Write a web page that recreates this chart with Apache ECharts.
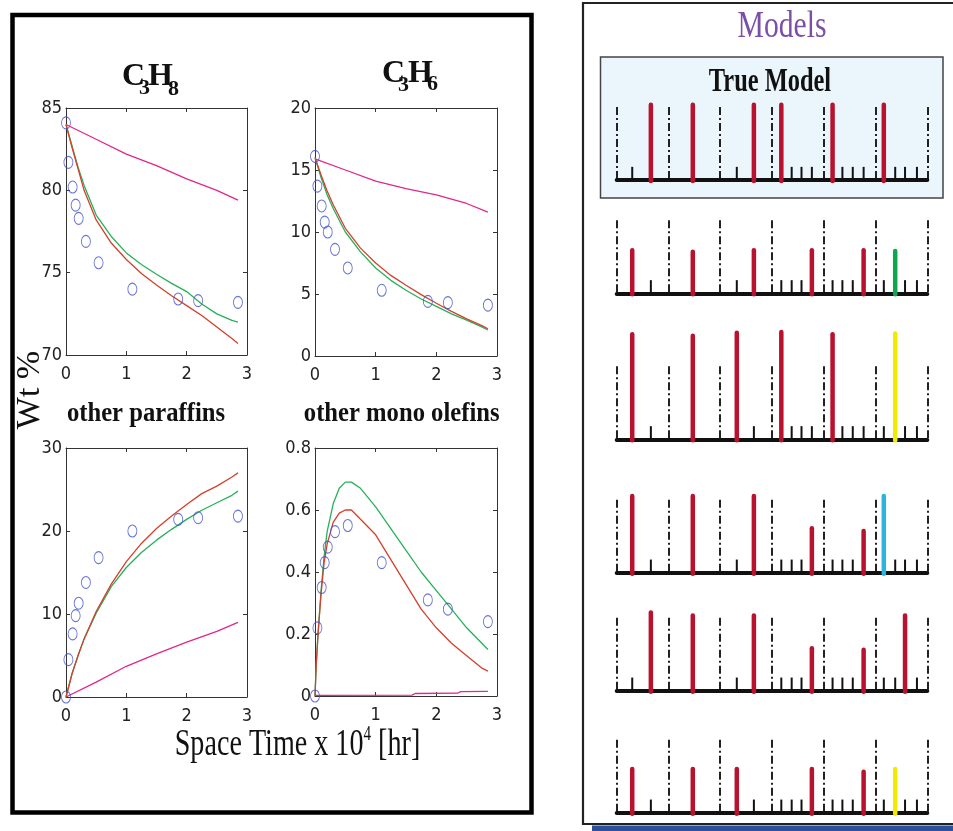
<!DOCTYPE html>
<html>
<head>
<meta charset="utf-8">
<script src="https://cdn.jsdelivr.net/npm/echarts@6/dist/echarts.min.js"></script>
<style>
  html,body{margin:0;padding:0;background:#fff;}
  #chart{width:953px;height:831px;}
</style>
</head>
<body>
<div id="chart"></div>
<script>
// measured points (space time x 10^4 hr)
const spaceTime = [0, 0.04, 0.11, 0.16, 0.21, 0.33, 0.54, 1.1, 1.86, 2.19, 2.85];
const c3h8Exp = [84.1, 81.7, 80.2, 79.1, 78.3, 76.9, 75.6, 74.0, 73.4, 73.3, 73.2];
const c3h6Exp = [16.1, 13.7, 12.1, 10.8, 10.0, 8.6, 7.1, 5.3, 4.4, 4.3, 4.1];
const paraffinExp = [0.0, 4.5, 7.6, 9.8, 11.3, 13.8, 16.8, 20.0, 21.4, 21.6, 21.8];
const olefinExp = [0.0, 0.22, 0.35, 0.43, 0.48, 0.53, 0.55, 0.43, 0.31, 0.28, 0.24];

// model curves
const modelTime = [0, 0.1, 0.2, 0.3, 0.5, 0.75, 1, 1.25, 1.5, 1.75, 2, 2.25, 2.5, 2.75, 2.85];
const c3h8Red   = [84.0, 82.6, 81.3, 80.0, 78.2, 76.8, 75.8, 74.95, 74.25, 73.6, 73.0, 72.4, 71.7, 71.0, 70.7];
const c3h8Green = [84.0, 82.7, 81.4, 80.3, 78.5, 77.2, 76.2, 75.5, 74.9, 74.35, 73.85, 73.1, 72.5, 72.1, 72.0];
const c3h6Red   = [16.0, 14.6, 13.3, 12.2, 10.3, 8.7, 7.5, 6.5, 5.7, 4.95, 4.25, 3.6, 3.0, 2.45, 2.2];
const c3h6Green = [16.0, 14.4, 13.0, 11.9, 10.0, 8.4, 7.1, 6.1, 5.3, 4.6, 4.0, 3.4, 2.9, 2.35, 2.1];
const paraffinRed   = [0, 2.8, 5.0, 7.0, 10.3, 13.6, 16.3, 18.5, 20.3, 21.8, 23.2, 24.5, 25.4, 26.5, 27.0];
const paraffinGreen = [0, 2.8, 5.0, 7.0, 10.1, 13.3, 15.6, 17.4, 18.9, 20.2, 21.4, 22.5, 23.4, 24.3, 24.8];

const slowTime = [0, 0.5, 1, 1.5, 2, 2.5, 2.85];
const c3h8Magenta = [84.0, 83.1, 82.2, 81.5, 80.7, 80.0, 79.4];
const c3h6Magenta = [15.9, 15.0, 14.1, 13.5, 13.0, 12.3, 11.6];
const paraffinMagenta = [0, 1.8, 3.7, 5.2, 6.6, 7.9, 9.0];

const olefinTime  = [0, 0.02, 0.05, 0.1, 0.15, 0.2, 0.3, 0.4, 0.5, 0.6, 0.75, 1, 1.25, 1.5, 1.75, 2, 2.25, 2.5, 2.75, 2.85];
const olefinGreen = [0, 0.10, 0.20, 0.34, 0.45, 0.53, 0.62, 0.67, 0.69, 0.69, 0.67, 0.61, 0.54, 0.47, 0.40, 0.34, 0.28, 0.22, 0.17, 0.15];
const olefinRed   = [0, 0.10, 0.20, 0.33, 0.43, 0.49, 0.56, 0.59, 0.60, 0.60, 0.57, 0.52, 0.44, 0.36, 0.28, 0.22, 0.17, 0.13, 0.09, 0.08];
const olefinMagTime = [0, 1.6, 1.65, 2.35, 2.4, 2.85];
const olefinMagenta = [0.002, 0.003, 0.008, 0.009, 0.014, 0.015];

// model structures: candidate slots, and per row [slot, height, kind]
const modelSlots = [0.30, 0.66, 1.47, 2.32, 2.65, 3.18, 3.38, 3.57, 3.77, 4.17, 4.36, 4.56, 4.77, 5.16, 5.38, 5.57, 5.80];
const modelTrue = [[0.66,1.03,0],[1.47,1.03,0],[2.65,1.03,0],[3.18,1.03,0],[4.17,1.03,0],[5.16,1.03,0]];
const modelA = [[0.30,0.59,0],[1.47,0.57,0],[2.65,0.59,0],[3.77,0.59,0],[4.77,0.59,0],[5.38,0.58,1]];
const modelB = [[0.30,1.44,0],[1.47,1.42,0],[2.32,1.46,0],[3.18,1.47,0],[4.17,1.44,0],[5.38,1.45,2]];
const modelC = [[0.30,1.05,0],[1.47,1.05,0],[2.65,1.05,0],[3.77,0.61,0],[4.77,0.57,0],[5.16,1.05,3]];
const modelD = [[0.66,1.07,0],[1.47,1.03,0],[2.65,1.03,0],[3.77,0.58,0],[4.77,0.56,0],[5.57,1.03,0]];
const modelE = [[0.30,0.60,0],[1.47,0.60,0],[2.32,0.60,0],[3.77,0.60,0],[4.77,0.56,0],[5.38,0.60,2]];
const barColors = ['#b8122f', '#0fa64d', '#f2ea00', '#2cb3df'];

const narrow = "'Liberation Sans Narrow','DejaVu Sans Condensed','Arial Narrow',sans-serif";
const serif = "'Liberation Serif','Times New Roman','DejaVu Serif',serif";
const RED = '#d5402c', GREEN = '#27b05a', MAG = '#e2268c', BLUE = '#4350cc';

const pair = (xs, ys) => xs.map((x, i) => [x, ys[i]]);

const plots = [
  {grid:{left:66, top:108, width:181, height:247}, min:70, max:85, step:5,
   exp:c3h8Exp, red:c3h8Red, green:c3h8Green, mag:pair(slowTime, c3h8Magenta), t:modelTime},
  {grid:{left:315, top:108, width:182, height:248}, min:0, max:20, step:5,
   exp:c3h6Exp, red:c3h6Red, green:c3h6Green, mag:pair(slowTime, c3h6Magenta), t:modelTime},
  {grid:{left:66, top:448, width:181, height:249}, min:0, max:30, step:10,
   exp:paraffinExp, red:paraffinRed, green:paraffinGreen, mag:pair(slowTime, paraffinMagenta), t:modelTime},
  {grid:{left:315, top:448, width:182, height:248}, min:0, max:0.8, step:0.2,
   exp:olefinExp, red:olefinRed, green:olefinGreen, mag:pair(olefinMagTime, olefinMagenta), t:olefinTime}
];

const rows = [modelTrue, modelA, modelB, modelC, modelD, modelE];
const rowBase = [180, 293.3, 439.3, 572.7, 690.7, 812.7];

const grids = [], xAxes = [], yAxes = [], series = [];
const frameLine = {show:true, onZero:false, lineStyle:{color:'#333', width:1}};
const inTick = {show:true, inside:true, length:4, lineStyle:{color:'#333'}};

plots.forEach((p, i) => {
  grids.push(p.grid);
  const xBase = {type:'value', gridIndex:i, min:0, max:3, interval:1, splitLine:{show:false}, axisLine:frameLine, axisTick:inTick};
  xAxes.push(Object.assign({}, xBase, {position:'bottom',
    axisLabel:{margin:10, color:'#222', fontSize:18, fontFamily:narrow}}));
  xAxes.push(Object.assign({}, xBase, {position:'top', axisLabel:{show:false}}));
  const yBase = {type:'value', gridIndex:i, min:p.min, max:p.max, interval:p.step, splitLine:{show:false}, axisLine:frameLine, axisTick:inTick};
  yAxes.push(Object.assign({}, yBase, {position:'left',
    axisLabel:{margin:4, color:'#222', fontSize:18, fontFamily:narrow}}));
  yAxes.push(Object.assign({}, yBase, {position:'right', axisLabel:{show:false}}));
  const ax = {xAxisIndex:2*i, yAxisIndex:2*i};
  const line = (data, color) => Object.assign({type:'line', data, showSymbol:false, animation:false,
    lineStyle:{color, width:1.3}, z:3}, ax);
  series.push(line(p.mag, MAG));
  series.push(line(pair(p.t, p.green), GREEN));
  series.push(line(pair(p.t, p.red), RED));
  series.push(Object.assign({type:'scatter', data:pair(spaceTime, p.exp), symbol:'circle',
    symbolSize:[9,12], itemStyle:{color:'rgba(0,0,0,0)', borderColor:BLUE, borderWidth:1}, animation:false, z:4}, ax));
});

rows.forEach((row, r) => {
  const g = 4 + r;
  grids.push({left:616.7, width:310.6, top:rowBase[r]-73, height:73});
  xAxes.push({type:'value', gridIndex:g, min:0, max:6, interval:1,
    axisLine:{show:true, onZero:false, lineStyle:{color:'#111', width:4, cap:'round'}},
    axisTick:{show:false}, axisLabel:{show:false},
    splitLine:{show:true, lineStyle:{color:'#222', width:2, type:[8,3,2,3]}}});
  yAxes.push({type:'value', gridIndex:g, min:0, max:1, show:false});
  const free = modelSlots.filter(s => !row.some(b => Math.abs(b[0] - s) < 0.05)).map(s => [s, 0]);
  series.push({type:'custom', xAxisIndex:8+r, yAxisIndex:8+r, data:free, animation:false, z:3,
    renderItem:(params, api) => {
      const a = api.coord([api.value(0), 0]), b = api.coord([api.value(0), 0.18]);
      return {type:'line', shape:{x1:a[0], y1:a[1], x2:b[0], y2:b[1]}, style:{stroke:'#111', lineWidth:2}};
    }});
  series.push({type:'custom', xAxisIndex:8+r, yAxisIndex:8+r, data:row, animation:false, z:4,
    renderItem:(params, api) => {
      const a = api.coord([api.value(0), 0]), b = api.coord([api.value(0), api.value(1)]);
      return {type:'line', shape:{x1:a[0], y1:a[1]+1, x2:b[0], y2:b[1]},
        style:{stroke:barColors[api.value(2)], lineWidth:4.5, lineCap:'round'}};
    }});
});

const txt = (text, x, y, size, opts) => Object.assign({type:'text', x, y, z:10,
  style:Object.assign({text, fontSize:size, fontFamily:serif, fill:'#111',
    align:'center', verticalAlign:'middle', textAlign:'center', textVerticalAlign:'middle'}, (opts && opts.style) || {})},
  opts && opts.el || {});
const sub = (text, x, y, size) => txt(text, x, y, size, {style:{fontWeight:'bold', align:'left', textAlign:'left'}});

const graphics = [
  {type:'rect', z:-10, shape:{x:12.5, y:15, width:519, height:797.5}, style:{fill:'#fff', stroke:'#000', lineWidth:4.5}},
  {type:'rect', z:-10, shape:{x:583, y:3, width:400, height:821}, style:{fill:'#fff', stroke:'#222', lineWidth:2.2}},
  {type:'rect', z:-9, shape:{x:592, y:825.5, width:370, height:7}, style:{fill:'#2c4f9e'}},
  {type:'rect', z:-9, shape:{x:600.5, y:57, width:342.5, height:141}, style:{fill:'#eaf6fc', stroke:'#444', lineWidth:1.5}},
  txt('Models', 782, 27, 38, {style:{fill:'#7b4fa8'}, el:{scaleX:0.78}}),
  txt('True Model', 770, 82, 33, {style:{fontWeight:'bold'}, el:{scaleX:0.74}}),
  sub('C', 122, 77, 32), sub('3', 139, 88, 22), sub('H', 148, 77, 32), sub('8', 168, 89, 22),
  sub('C', 382, 74, 32), sub('3', 398, 85, 22), sub('H', 408, 74, 32), sub('6', 427, 84, 22),
  txt('other paraffins', 146, 413.5, 28, {style:{fontWeight:'bold'}, el:{scaleX:0.88}}),
  txt('other mono olefins', 401.7, 413.5, 28, {style:{fontWeight:'bold'}, el:{scaleX:0.88}}),
  txt('Wt %', 30, 390, 34, {el:{rotation:Math.PI/2}}),
  txt('{n|Space Time x 10}{s|4}{n| [hr]}', 297.5, 745, 37, {style:{rich:{
      n:{fontSize:37, fontFamily:serif, lineHeight:40},
      s:{fontSize:20, fontFamily:serif, lineHeight:30, verticalAlign:'top'}}}, el:{scaleX:0.76}})
];

const chart = echarts.init(document.getElementById('chart'));
chart.setOption({
  animation:false,
  backgroundColor:'#fff',
  grid:grids,
  xAxis:xAxes,
  yAxis:yAxes,
  series:series,
  graphic:{elements:graphics}
});
</script>
</body>
</html>
